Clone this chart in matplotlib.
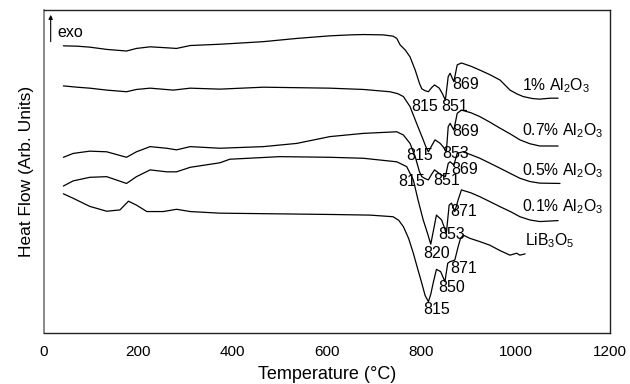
import numpy as np
import matplotlib
matplotlib.use("Agg")
import matplotlib.pyplot as plt

plt.rcParams["font.family"] = ["Liberation Sans", "DejaVu Sans"]
plt.rcParams["mathtext.fontset"] = "custom"
plt.rcParams["mathtext.rm"] = "Liberation Sans"
plt.rcParams["mathtext.it"] = "Liberation Sans:italic"

# ---- DTA traces: temperature (°C) and heat flow (arbitrary units) ----
t_1pct = [41, 70, 97, 133, 175, 196, 225, 260, 281, 310, 373, 420, 465, 536, 606, 650, 677, 719,
          740, 748, 755, 766, 776, 787, 796, 801, 808, 815, 822, 828, 838, 845, 851, 857, 861, 869,
          876, 885, 905, 924, 945, 967, 988, 1003, 1016, 1035, 1051, 1073, 1090]
h_1pct = [88.9, 88.8, 88.5, 87.8, 87.3, 88.1, 88.6, 88.3, 88.1, 89.0, 89.4, 89.8, 90.2, 91.2, 92.0, 92.3, 92.4, 92.3,
          91.9, 91.2, 89.2, 87.6, 85.5, 81.4, 77.3, 75.6, 75.0, 74.7, 76.0, 76.8, 75.8, 74.0, 72.1, 79.4, 80.4, 77.8,
          83.0, 83.6, 82.6, 81.4, 80.0, 78.3, 75.2, 74.0, 73.2, 72.6, 72.4, 72.7, 72.7]

t_07pct = [41, 70, 97, 133, 175, 196, 225, 274, 310, 373, 465, 606, 677, 733, 750, 762, 776, 790, 804,
           810, 815, 822, 829, 840, 847, 853, 857, 861, 869, 876, 885, 905, 924, 945, 967, 990, 1009, 1030,
           1051, 1090]
h_07pct = [76.5, 76.1, 75.8, 75.2, 74.7, 75.4, 75.8, 75.2, 75.8, 75.5, 76.1, 75.8, 75.4, 74.7, 74.1, 73.2, 70.1, 64.9, 59.8,
           57.5, 56.1, 58.0, 59.8, 58.7, 57.5, 56.1, 63.9, 64.9, 62.8, 68.0, 69.0, 68.2, 67.0, 65.3, 63.4, 61.5, 59.8, 58.6,
           57.9, 57.9]

t_05pct = [41, 62, 97, 133, 175, 196, 225, 260, 281, 310, 373, 465, 536, 606, 677, 748, 762,
           776, 787, 796, 801, 808, 815, 822, 828, 838, 845, 851, 857, 861, 869, 876, 888, 905, 924,
           945, 967, 990, 1009, 1030, 1051, 1094]
h_05pct = [54.4, 55.6, 56.3, 56.1, 54.4, 56.1, 57.7, 57.2, 56.7, 57.7, 57.2, 57.7, 58.7, 60.8, 61.8, 62.3, 61.3,
           58.7, 54.6, 49.9, 48.4, 47.8, 47.4, 49.2, 50.5, 49.4, 48.8, 48.4, 52.5, 53.0, 52.0, 55.6, 56.1, 55.2, 54.1,
           52.6, 51.0, 49.3, 47.9, 46.9, 46.4, 46.3]

t_01pct = [41, 62, 97, 133, 175, 196, 225, 260, 281, 310, 373, 394, 500, 606, 677, 748, 769,
           783, 793, 804, 813, 820, 826, 832, 843, 853, 859, 864, 871, 878, 885, 905, 924, 945, 967,
           990, 1009, 1030, 1051, 1090]
h_01pct = [45.5, 47.1, 48.2, 48.4, 46.3, 48.4, 50.5, 49.9, 49.9, 51.3, 52.7, 53.8, 54.6, 54.4, 54.1, 53.0, 51.5,
           47.4, 41.2, 35.0, 30.9, 27.5, 32.0, 36.5, 35.0, 30.9, 39.6, 40.2, 37.6, 41.2, 44.3, 43.4, 42.2, 40.7, 39.1,
           37.5, 36.0, 35.0, 34.5, 34.8]

t_lbo = [41, 62, 97, 133, 161, 179, 196, 218, 253, 281, 310, 373, 606, 691, 740, 752, 762, 773, 783, 792, 801,
         808, 815, 820, 825, 832, 841, 850, 856, 861, 866, 871, 878, 883, 889, 903, 924, 945, 967, 988, 1002, 1009, 1020]
h_lbo = [43.1, 41.7, 39.2, 37.7, 38.1, 40.8, 39.6, 37.6, 37.6, 38.3, 37.6, 37.1, 36.7, 36.5, 36.0, 34.9, 32.9, 29.3, 24.7, 20.0, 15.4,
         11.6, 9.7, 12.0, 15.4, 19.7, 19.0, 15.9, 21.6, 22.1, 22.3, 22.6, 26.7, 29.3, 30.3, 29.3, 28.3, 27.2, 25.5, 24.1, 24.7, 24.1, 24.5]

# Peak temperatures marked on each trace
peaks_1pct = [815, 851, 869]
peaks_07pct = [815, 853, 869]
peaks_05pct = [815, 851, 869]
peaks_01pct = [820, 853, 871]
peaks_lbo = [815, 850, 871]

sample_names = [r"1% Al$_2$O$_3$", r"0.7% Al$_2$O$_3$", r"0.5% Al$_2$O$_3$",
                r"0.1% Al$_2$O$_3$", r"LiB$_3$O$_5$"]

traces = [(t_1pct, h_1pct, peaks_1pct), (t_07pct, h_07pct, peaks_07pct),
          (t_05pct, h_05pct, peaks_05pct), (t_01pct, h_01pct, peaks_01pct),
          (t_lbo, h_lbo, peaks_lbo)]

# label offsets (points) for the peak annotations of each trace
peak_offsets = [
    [(-2.5, -10.5), (7, -4.5), (8.5, -2)],
    [(-6, -3), (6.5, -1), (8.5, -1)],
    [(-12, -1), (1, -3), (8, -3.5)],
    [(4, -6.5), (4, -1), (6.5, 0)],
    [(6, -5.5), (5, -4), (6.5, -6)],
]
# placement of the sample names (data coords)
name_pos = [(1013, 76.5), (1013, 62.6), (1013, 50.3), (1013, 39.1), (1020, 28.5)]

fig = plt.figure(figsize=(6.30, 3.84), dpi=100)
ax = fig.add_axes([44 / 630, 1 - 333 / 384, 566 / 630, 323 / 384])

for (t, h, pk), offs in zip(traces, peak_offsets):
    ax.plot(t, h, color="black", lw=0.9, solid_joinstyle="round", solid_capstyle="round")
    for p, (dx, dy) in zip(pk, offs):
        y = float(np.interp(p, t, h))
        ax.annotate(str(p), xy=(p, y), xytext=(dx, dy), textcoords="offset points",
                    ha="center", va="center", fontsize=11.5)

for name, (x, y) in zip(sample_names, name_pos):
    ax.text(x, y, name, ha="left", va="center", fontsize=11.3)

# exo direction marker
ax.annotate("", xy=(0.0118, 0.985), xytext=(0.0118, 0.902), xycoords="axes fraction",
            arrowprops=dict(arrowstyle="-|>", color="black", lw=0.8,
                            mutation_scale=6, shrinkA=0, shrinkB=0))
ax.text(0.024, 0.929, "exo", transform=ax.transAxes, ha="left", va="center", fontsize=11.5)

ax.set_xlim(0, 1200)
ax.set_ylim(0, 100)
ax.set_xticks([0, 200, 400, 600, 800, 1000, 1200])
ax.set_yticks([])
ax.tick_params(axis="x", length=0, pad=9, labelsize=11)
ax.set_xlabel("Temperature (°C)", fontsize=13, labelpad=5)
ax.set_ylabel("Heat Flow (Arb. Units)", fontsize=12.5, labelpad=7)

for side in ["top", "right", "bottom"]:
    ax.spines[side].set_color("#222222")
    ax.spines[side].set_linewidth(1.0)
ax.spines["left"].set_color("#777777")
ax.spines["left"].set_linewidth(1.2)

fig.savefig("out.png", dpi=100)
